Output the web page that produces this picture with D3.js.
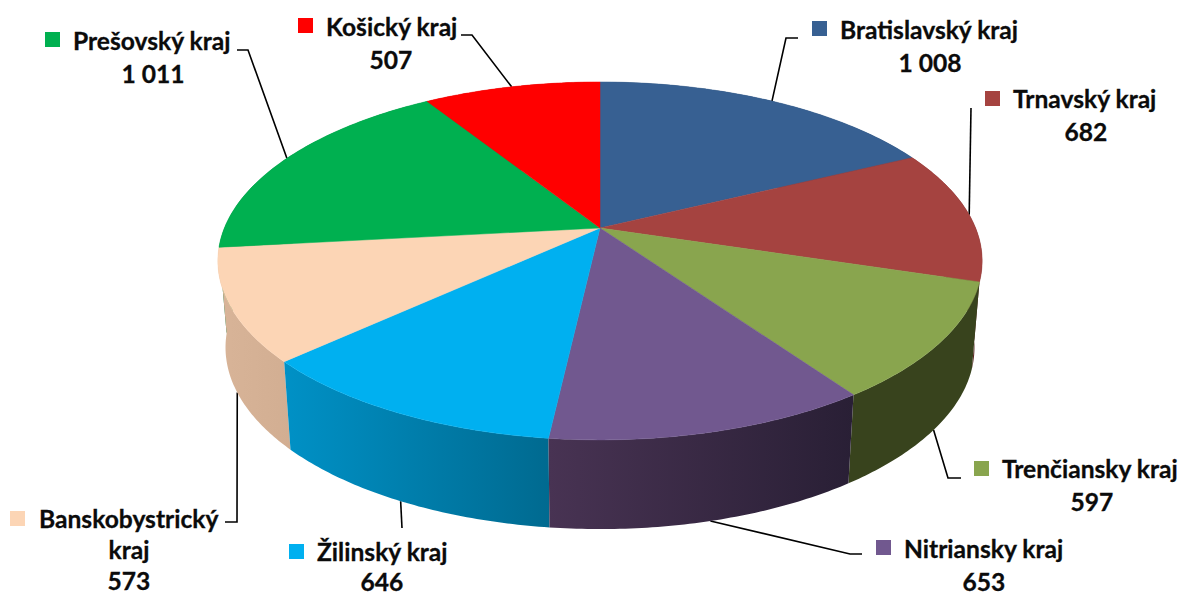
<!DOCTYPE html>
<html lang="sk">

<head>
    <meta charset="UTF-8">
    <title>Kraje</title>
    <script src="https://d3js.org/d3.v7.min.js"></script>
    <style>
        body { margin: 0; background: #fff; }
        text { font-family: Lato, "Liberation Sans", sans-serif; font-weight: 700; font-size: 24.6px; fill: #0b0b0b; stroke: #0b0b0b; stroke-width: 0.3px; }
    </style>
</head>

<body>
    <div id="chart"></div>
    <script>
        // data, clockwise from the top of the pie
        const categories = ["Bratislavský kraj", "Trnavský kraj", "Trenčiansky kraj", "Nitriansky kraj",
            "Žilinský kraj", "Banskobystrický kraj", "Prešovský kraj", "Košický kraj"];
        const values = [1008, 682, 597, 653, 646, 573, 1011, 507];
        const topColors = ["#376092", "#A54340", "#89A54E", "#71588F", "#00B0F0", "#FCD5B5", "#00B050", "#FF0000"];
        const wallLeft = ["#1f3a5c", "#7a2f2d", "#38431d", "#483353", "#0091c6", "#d8b498", "#007a38", "#b00000"];
        const wallRight = ["#1f3a5c", "#5a2523", "#38431d", "#291f35", "#006a90", "#d2ae92", "#007a38", "#b00000"];

        // label lines per slice, second array is where the block sits
        const labelLines = [["Bratislavský kraj"], ["Trnavský kraj"], ["Trenčiansky kraj"], ["Nitriansky kraj"],
            ["Žilinský kraj"], ["Banskobystrický", "kraj"], ["Prešovský kraj"], ["Košický kraj"]];
        const labelPos = [
            { sx: 812, sy: 21, tx: 840, by: 39, cx: 930, gap: 32.5 },
            { sx: 985, sy: 91, tx: 1013, by: 108, cx: 1086, gap: 32.5 },
            { sx: 974, sy: 461, tx: 1002, by: 478, cx: 1092, gap: 32.5 },
            { sx: 876, sy: 540, tx: 904, by: 558, cx: 984, gap: 32.5 },
            { sx: 289, sy: 544, tx: 317, by: 561, cx: 382, gap: 29.5 },
            { sx: 10, sy: 511, tx: 39, by: 528, cx: 129, gap: 31 },
            { sx: 45, sy: 32, tx: 73, by: 50, cx: 153, gap: 32.5 },
            { sx: 298, sy: 18, tx: 326, by: 36, cx: 391, gap: 32.5 }
        ];
        // leader points going from the slice out to the label
        const leaderEnds = [
            [[786, 38], [798, 38]],
            [[971, 108]],
            [[948, 478], [961, 478]],
            [[850, 554], [862, 554]],
            [[402, 528]],
            [[237, 522], [225, 522]],
            [[248, 50], [237, 50]],
            [[472, 35], [461, 35]]
        ];

        const width = 1185, height = 595;
        const cx = 600, cy = 228;
        const A = 375.6, B = 172.9, k = 0.184; // perspective of the disc
        const depth = 86, shrinkX = 0.98, shrinkY = 1.015; // lower rim

        const top3d = a => {
            const u = Math.sin(a), v = Math.cos(a), w = 1 + k * v;
            return [cx + A * u / w, cy - B * v / w];
        };
        const bottom3d = a => {
            const u = Math.sin(a), v = Math.cos(a), w = 1 + k * v;
            return [cx + shrinkX * A * u / w, cy + depth - shrinkY * B * v / w];
        };

        const fmt = d3.formatLocale({ thousands: " ", grouping: [3], decimal: ",", currency: ["", ""] }).format(",d");
        const arcs = d3.pie().sort(null).value(d => d)(values);
        const line = d3.line();
        const steps = (a0, a1) => d3.range(0, 61).map(i => a0 + (a1 - a0) * i / 60);

        const svg = d3.select("#chart").append("svg")
            .attr("width", width)
            .attr("height", height);
        const defs = svg.append("defs");

        // leaders go under the pie so they stop at its edge
        svg.append("g").selectAll("path")
            .data(arcs)
            .enter()
            .append("path")
            .attr("fill", "none")
            .attr("stroke", "#000")
            .attr("stroke-width", 1.6)
            .attr("d", (d, i) => {
                const mid = (d.startAngle + d.endAngle) / 2;
                const start = Math.cos(mid) < 0 ? bottom3d(mid) : top3d(mid);
                return line([start, ...leaderEnds[i]]);
            });

        // side walls, back ones first
        const order = d3.range(arcs.length).sort((a, b) =>
            Math.cos((arcs[b].startAngle + arcs[b].endAngle) / 2) - Math.cos((arcs[a].startAngle + arcs[a].endAngle) / 2));
        order.forEach(i => {
            const d = arcs[i];
            const a = steps(d.startAngle, d.endAngle);
            const pts = a.map(top3d).concat(a.slice().reverse().map(bottom3d));
            const xs = d3.extent(pts, p => p[0]);
            const grad = defs.append("linearGradient")
                .attr("id", "wall-" + i)
                .attr("gradientUnits", "userSpaceOnUse")
                .attr("x1", xs[0]).attr("x2", xs[1])
                .attr("y1", 0).attr("y2", 0);
            grad.append("stop").attr("offset", 0).attr("stop-color", wallLeft[i]);
            grad.append("stop").attr("offset", 1).attr("stop-color", wallRight[i]);
            svg.append("path")
                .attr("d", line(pts) + "Z")
                .attr("fill", `url(#wall-${i})`);
        });

        // top face
        svg.append("g").selectAll("path")
            .data(arcs)
            .enter()
            .append("path")
            .attr("d", d => line([[cx, cy], ...steps(d.startAngle, d.endAngle).map(top3d)]) + "Z")
            .attr("fill", (d, i) => topColors[i])
            .attr("stroke", (d, i) => topColors[i])
            .attr("stroke-width", 0.5);

        // labels
        const labels = svg.append("g").selectAll("g")
            .data(categories)
            .enter()
            .append("g");
        labels.append("rect")
            .attr("x", (d, i) => labelPos[i].sx)
            .attr("y", (d, i) => labelPos[i].sy)
            .attr("width", 15)
            .attr("height", 15)
            .attr("fill", (d, i) => topColors[i]);
        labels.append("text")
            .attr("x", (d, i) => labelPos[i].tx)
            .attr("y", (d, i) => labelPos[i].by)
            .text((d, i) => labelLines[i][0]);
        labels.each(function (d, i) {
            const g = d3.select(this);
            const rest = labelLines[i].slice(1).concat(fmt(values[i]));
            rest.forEach((t, j) => {
                g.append("text")
                    .attr("x", labelPos[i].cx)
                    .attr("y", labelPos[i].by + labelPos[i].gap * (j + 1))
                    .attr("text-anchor", "middle")
                    .text(t);
            });
        });
    </script>
</body>

</html>
